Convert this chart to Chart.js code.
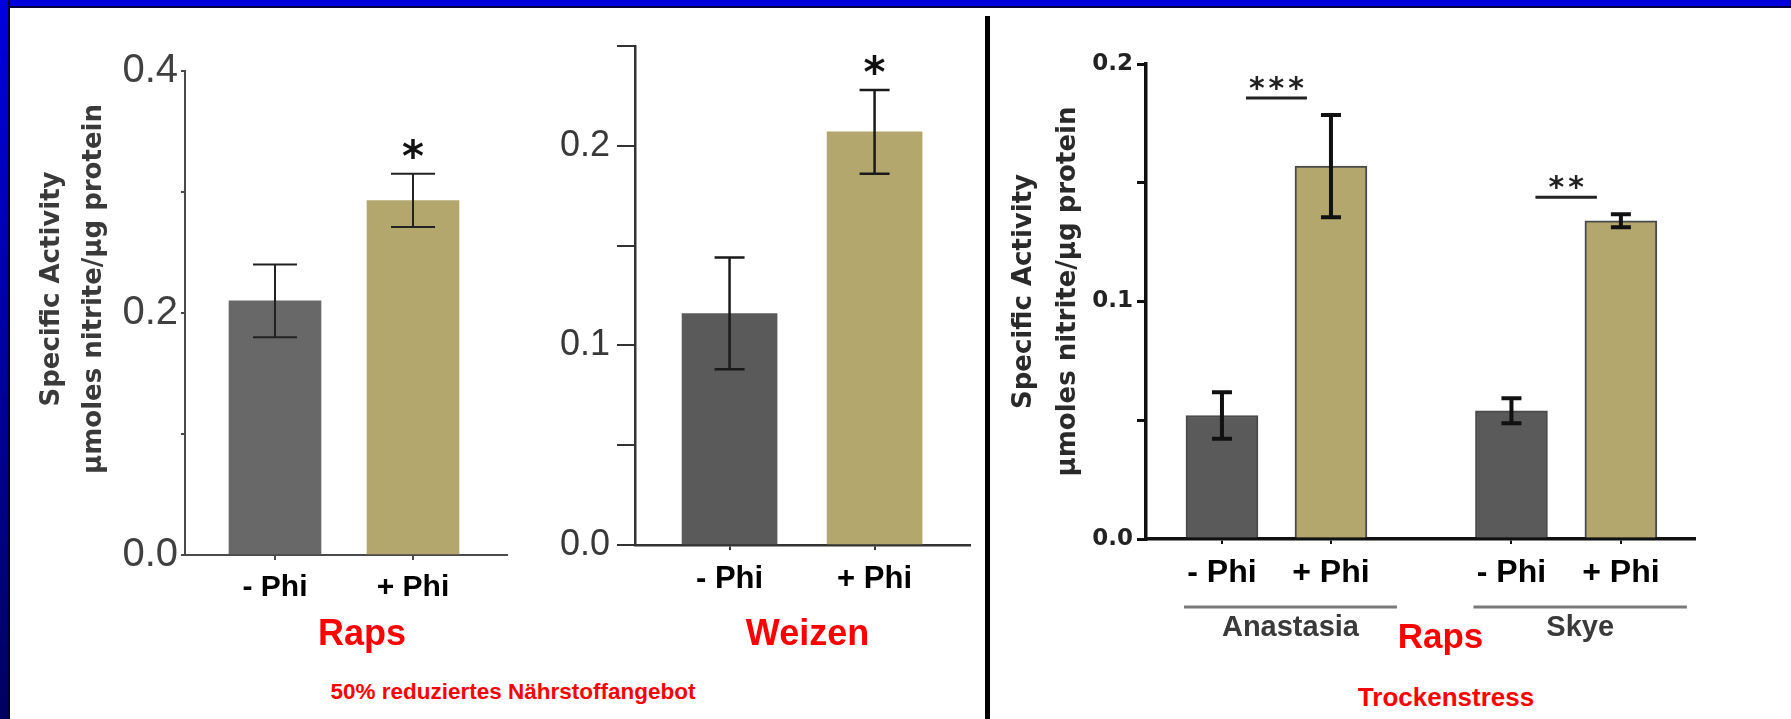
<!DOCTYPE html>
<html lang="de">
<head>
<meta charset="UTF-8">
<title>Spezifische Aktivität mit und ohne Phi</title>
<script src="https://cdn.jsdelivr.net/npm/chart.js"></script>
<style>
  html, body { margin: 0; padding: 0; background: #fff; }
  body { width: 1791px; height: 719px; position: relative; overflow: hidden; font-family: "Liberation Sans", Arial, sans-serif; }
  #topBand { position: absolute; left: 0; top: 0; width: 1791px; height: 6px; background: #0000dc; border-bottom: 2px solid #00003c; }
  #leftBand { position: absolute; left: 0; top: 0; width: 8px; height: 719px; background: linear-gradient(#0000e0, #000060); border-right: 2px solid #00002a; }
  #divider { position: absolute; left: 985px; top: 16px; width: 5px; height: 703px; background: #000; }
  canvas { position: absolute; top: 10px; }
  .note { position: absolute; color: #ff0000; font-weight: bold; white-space: nowrap; transform: translateX(-50%); }
</style>
</head>
<body>
<div id="topBand"></div>
<div id="leftBand"></div>
<div id="divider"></div>

<canvas id="rapsChart" width="533" height="660" style="left:12px"></canvas>
<canvas id="weizenChart" width="437" height="660" style="left:545px"></canvas>
<canvas id="droughtChart" width="780" height="660" style="left:995px"></canvas>

<div class="note" style="left:513px; top:678px; font-size:22.5px; line-height:28px;">50% reduziertes Nährstoffangebot</div>
<div class="note" style="left:1446px; top:682px; font-size:26px; line-height:30px;">Trockenstress</div>

<script>
    // --- data ---
    const yTitle = ['Specific Activity', 'µmoles nitrite/µg protein'];

    const phiLabels = ['- Phi', '+ Phi'];
    const pairSlots = [0, 1];

    const rapsMean = [0.21, 0.293];
    const rapsErr = [0.03, 0.022];
    const rapsStars = ['', '*'];

    const weizenMean = [0.116, 0.207];
    const weizenErr = [0.028, 0.021];
    const weizenStars = ['', '*'];

    const droughtLabels = ['- Phi', '+ Phi', '- Phi', '+ Phi'];
    const droughtSlots = [0, 1, 2.656, 3.66];
    const droughtGroups = ['Anastasia', 'Skye'];
    const droughtMean = [0.052, 0.157, 0.054, 0.134];
    const droughtErr = [0.0098, 0.0215, 0.0053, 0.0027];
    const droughtSig = ['***', '**'];

    const TAN = '#b3a76e';
    const RED = '#ff0000';

    function errorBars(err, cap, width, color) {
        return {
            id: 'errorBars',
            afterDatasetsDraw(chart) {
                const { ctx } = chart;
                const y = chart.scales.y;
                const values = chart.data.datasets[0].data;
                ctx.save();
                ctx.strokeStyle = color;
                ctx.lineWidth = width;
                chart.getDatasetMeta(0).data.forEach((bar, i) => {
                    const top = y.getPixelForValue(values[i].y + err[i]);
                    const bottom = y.getPixelForValue(values[i].y - err[i]);
                    ctx.beginPath();
                    ctx.moveTo(bar.x, top); ctx.lineTo(bar.x, bottom);
                    ctx.moveTo(bar.x - cap / 2, top); ctx.lineTo(bar.x + cap / 2, top);
                    ctx.moveTo(bar.x - cap / 2, bottom); ctx.lineTo(bar.x + cap / 2, bottom);
                    ctx.stroke();
                });
                ctx.restore();
            }
        };
    }

    // single asterisk above a bar's error bar
    function starMarks(marks, err) {
        return {
            id: 'starMarks',
            afterDatasetsDraw(chart) {
                const { ctx } = chart;
                const y = chart.scales.y;
                const values = chart.data.datasets[0].data;
                ctx.save();
                ctx.fillStyle = '#111';
                ctx.font = 'bold 42px "DejaVu Sans"';
                ctx.textAlign = 'center';
                ctx.textBaseline = 'alphabetic';
                chart.getDatasetMeta(0).data.forEach((bar, i) => {
                    if (!marks[i]) return;
                    const cy = y.getPixelForValue(values[i].y + err[i]) - 26;
                    ctx.fillText(marks[i], bar.x, cy + 23);
                });
                ctx.restore();
            }
        };
    }

    // rotated two-line y title and the red plant caption under the axis
    function textLayer(o) {
        return {
            id: 'textLayer',
            afterDraw(chart) {
                const { ctx, chartArea } = chart;
                const x = chart.scales.x, y = chart.scales.y;
                ctx.save();
                if (o.titleAt) {
                    const midY = (chartArea.top + chartArea.bottom) / 2 + o.titleDy;
                    ctx.fillStyle = o.titleColor;
                    ctx.font = 'bold 26px "DejaVu Sans"';
                    ctx.textAlign = 'center';
                    ctx.textBaseline = 'middle';
                    yTitle.forEach((line, i) => {
                        ctx.save();
                        ctx.translate(y.left + o.titleAt[i], midY);
                        ctx.rotate(-Math.PI / 2);
                        ctx.fillText(line, 0, 0);
                        ctx.restore();
                    });
                }
                ctx.fillStyle = RED;
                ctx.font = 'bold ' + o.captionSize + 'px "Liberation Sans"';
                ctx.textAlign = 'center';
                ctx.textBaseline = 'middle';
                ctx.fillText(o.caption, (chartArea.left + chartArea.right) / 2 + o.captionDx, x.top + o.captionDy);
                ctx.restore();
            }
        };
    }

    // significance line + stars between the pair of each group, and group captions under the axis
    const droughtExtras = {
        id: 'droughtExtras',
        afterDatasetsDraw(chart) {
            const { ctx } = chart;
            const x = chart.scales.x, y = chart.scales.y;
            const bars = chart.getDatasetMeta(0).data;
            ctx.save();
            droughtGroups.forEach((name, g) => {
                const xm = bars[2 * g].x, xp = bars[2 * g + 1].x;
                const lineY = y.getPixelForValue(droughtMean[2 * g + 1] + droughtErr[2 * g + 1]) - 17;
                ctx.strokeStyle = '#222';
                ctx.lineWidth = 3;
                ctx.beginPath();
                ctx.moveTo(xm + 24, lineY); ctx.lineTo(xp - 24, lineY);
                ctx.stroke();
                ctx.fillStyle = '#222';
                ctx.font = 'bold 30px "DejaVu Sans"';
                ctx.textAlign = 'center';
                ctx.textBaseline = 'alphabetic';
                ctx.letterSpacing = '4px';
                ctx.fillText(droughtSig[g], (xm + xp) / 2 + 2, lineY);
                ctx.letterSpacing = '0px';

                // group bracket line and name
                const gy = x.top + 68;
                const x0 = xm - 38, x1 = xp + 66;
                ctx.strokeStyle = '#7a7a7a';
                ctx.lineWidth = 3;
                ctx.beginPath();
                ctx.moveTo(x0, gy); ctx.lineTo(x1, gy);
                ctx.stroke();
                ctx.fillStyle = '#3a3a3a';
                ctx.font = 'bold 29px "Liberation Sans"';
                ctx.textBaseline = 'middle';
                ctx.fillText(name, (x0 + x1) / 2, x.top + 89);
            });
            ctx.restore();
        }
    };

    function barChart(id, o) {
        return new Chart(document.getElementById(id), {
            type: 'bar',
            data: {
                datasets: [{
                    data: o.slots.map((s, i) => ({ x: s, y: o.mean[i] })),
                    backgroundColor: o.labels.map(l => l.startsWith('+') ? TAN : o.gray),
                    borderColor: o.barBorder || 'transparent',
                    borderWidth: o.barBorder ? 2 : 0,
                    barThickness: o.barWidth
                }]
            },
            options: {
                responsive: false,
                animation: false,
                layout: { padding: o.padding },
                plugins: { legend: { display: false }, tooltip: { enabled: false } },
                scales: {
                    x: {
                        type: 'linear',
                        offset: false,
                        min: o.xMin,
                        max: o.xMax,
                        afterBuildTicks: s => { s.ticks = o.slots.map(v => ({ value: v })); },
                        afterFit: s => { s.height = o.xHeight; },
                        ticks: {
                            autoSkip: false,
                            maxRotation: 0,
                            padding: o.xTickPad,
                            color: '#000',
                            font: { family: 'Liberation Sans', weight: 'bold', size: o.xFontSize },
                            callback: (v, i) => o.labels[i]
                        },
                        grid: { offset: false, drawOnChartArea: false, tickLength: 5, color: o.axisColor, lineWidth: 2 },
                        border: { color: o.axisColor, width: o.axisWidth }
                    },
                    y: {
                        min: 0,
                        max: o.yMax,
                        afterFit: s => { s.width = o.yWidth; },
                        ticks: {
                            stepSize: o.yStep,
                            padding: o.yTickPad,
                            color: o.yTickColor,
                            font: o.yFont,
                            callback: v => (Math.round(v * 100) % o.labelEvery === 0 ? v.toFixed(1) : '')
                        },
                        grid: { drawOnChartArea: false, tickLength: o.yTickLen, color: o.axisColor, lineWidth: o.yTickWidth },
                        border: { color: o.axisColor, width: o.axisWidth }
                    }
                }
            },
            plugins: o.plugins
        });
    }

    barChart('rapsChart', {
        slots: pairSlots, labels: phiLabels, mean: rapsMean, gray: '#686868',
        barWidth: 92, xMin: -0.652, xMax: 1.681,
        padding: { top: 61, right: 38, bottom: 0, left: 0 },
        xHeight: 115, xTickPad: 10, xFontSize: 30,
        axisColor: '#4a4a4a', axisWidth: 2,
        yMax: 0.4, yStep: 0.1, labelEvery: 20, yWidth: 173, yTickPad: 3, yTickLen: 4, yTickWidth: 2,
        yTickColor: '#404040', yFont: { family: 'Liberation Sans', size: 40 },
        plugins: [
            errorBars(rapsErr, 44, 2, '#222'),
            starMarks(rapsStars, rapsErr),
            textLayer({ titleAt: [40, 82], titleDy: -24, titleColor: '#3a3a3a', caption: 'Raps', captionSize: 36, captionDx: 16, captionDy: 80 })
        ]
    });

    barChart('weizenChart', {
        slots: pairSlots, labels: phiLabels, mean: weizenMean, gray: '#5a5a5a',
        barWidth: 95, xMin: -0.652, xMax: 1.658,
        padding: { top: 36, right: 12, bottom: 0, left: 0 },
        xHeight: 125, xTickPad: 11, xFontSize: 31,
        axisColor: '#333', axisWidth: 2.5,
        yMax: 0.25, yStep: 0.05, labelEvery: 10, yWidth: 90, yTickPad: 7, yTickLen: 18, yTickWidth: 2,
        yTickColor: '#383838', yFont: { family: 'Liberation Sans', size: 36 },
        plugins: [
            errorBars(weizenErr, 30, 2.5, '#1a1a1a'),
            starMarks(weizenStars, weizenErr),
            textLayer({ caption: 'Weizen', captionSize: 36, captionDx: 5, captionDy: 90 })
        ]
    });

    barChart('droughtChart', {
        slots: droughtSlots, labels: droughtLabels, mean: droughtMean, gray: '#5a5a5a',
        barWidth: 72, barBorder: '#4a4a4a', xMin: -0.697, xMax: 4.34,
        padding: { top: 54, right: 80, bottom: 0, left: 0 },
        xHeight: 131, xTickPad: 10, xFontSize: 32,
        axisColor: '#111', axisWidth: 3.5,
        yMax: 0.2, yStep: 0.05, labelEvery: 10, yWidth: 151, yTickPad: 4, yTickLen: 9, yTickWidth: 3,
        yTickColor: '#222', yFont: { family: 'DejaVu Sans', weight: 'bold', size: 23 },
        plugins: [
            errorBars(droughtErr, 20, 4, '#111'),
            droughtExtras,
            textLayer({ titleAt: [29, 73], titleDy: -10, titleColor: '#2a2a2a', caption: 'Raps', captionSize: 35, captionDx: 20, captionDy: 99 })
        ]
    });
</script>
</body>
</html>
